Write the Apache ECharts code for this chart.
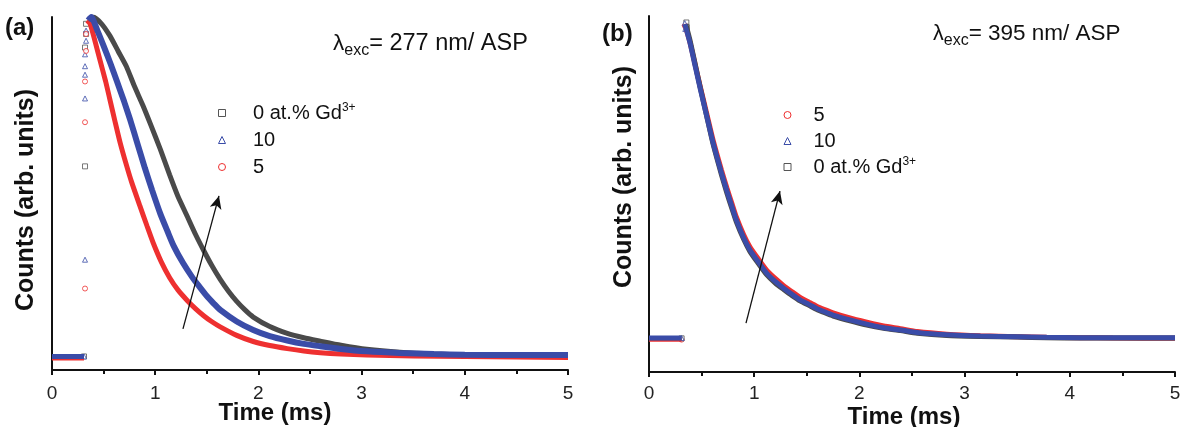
<!DOCTYPE html>
<html><head><meta charset="utf-8">
<script src="https://cdn.jsdelivr.net/npm/echarts@6/dist/echarts.min.js"></script>
<style>html,body{margin:0;padding:0;background:#fff}#c{width:1182px;height:427px}</style>
</head><body><div id="c"></div>
<script>
// ---------- shared ----------
const nameBlack = '0 at.% Gd3+';
const nameBlue = '10';
const nameRed = '5';
const xMin = 0, xMax = 5, xInterval = 1;

// ---------- panel (a): λexc = 277 nm ----------
const aBaseT = [0, 0.1, 0.2, 0.31];
const aBlackBase = [0, 0, 0, 0];
const aBlueBase = [0, 0, 0, 0];
const aRedBase = [-0.006, -0.006, -0.006, -0.006];

const aBlackT = [0.36, 0.40, 0.48, 0.56, 0.64, 0.72, 0.80, 0.88, 0.96, 1.05, 1.14, 1.22, 1.31, 1.39, 1.47, 1.55, 1.63, 1.71, 1.79, 1.87, 1.95, 2.11, 2.28, 2.44, 2.60, 2.80, 3.05, 3.37, 3.70, 4.00, 4.50, 5.00];
const aBlackV = [0.99, 1.00, 0.98, 0.945, 0.90, 0.855, 0.795, 0.74, 0.68, 0.61, 0.535, 0.472, 0.413, 0.36, 0.312, 0.267, 0.227, 0.192, 0.162, 0.137, 0.116, 0.088, 0.068, 0.055, 0.045, 0.033, 0.021, 0.012, 0.007, 0.005, 0.003, 0.002];

const aBlueT = [0.35, 0.38, 0.44, 0.50, 0.57, 0.63, 0.70, 0.76, 0.83, 0.90, 0.97, 1.05, 1.12, 1.18, 1.27, 1.36, 1.43, 1.50, 1.57, 1.63, 1.79, 1.95, 2.11, 2.28, 2.44, 2.60, 2.80, 3.05, 3.37, 3.70, 4.00, 4.50, 5.00];
const aBlueV = [0.99, 1.00, 0.96, 0.915, 0.86, 0.81, 0.75, 0.695, 0.625, 0.555, 0.49, 0.42, 0.368, 0.325, 0.275, 0.233, 0.205, 0.178, 0.155, 0.137, 0.103, 0.078, 0.06, 0.047, 0.037, 0.03, 0.022, 0.015, 0.01, 0.007, 0.005, 0.004, 0.004];

const aRedT = [0.34, 0.37, 0.42, 0.465, 0.52, 0.56, 0.61, 0.66, 0.72, 0.77, 0.85, 0.92, 0.98, 1.06, 1.14, 1.22, 1.31, 1.39, 1.47, 1.55, 1.63, 1.79, 1.95, 2.11, 2.28, 2.44, 2.60, 2.80, 3.05, 3.50, 4.00, 4.50, 5.00];
const aRedV = [0.99, 0.98, 0.925, 0.873, 0.81, 0.758, 0.693, 0.63, 0.565, 0.515, 0.445, 0.385, 0.335, 0.278, 0.232, 0.196, 0.165, 0.141, 0.12, 0.102, 0.087, 0.062, 0.044, 0.032, 0.023, 0.016, 0.011, 0.007, 0.004, 0.001, 0, -0.002, -0.003];

// rising-edge scattered points (t ≈ 0.32 ms)
const aBlackEdgeT = [0.31, 0.32, 0.32, 0.33, 0.33];
const aBlackEdgeV = [0, 0.56, 0.91, 0.95, 0.98];
const aBlueEdgeT = [0.31, 0.32, 0.32, 0.32, 0.32, 0.32, 0.33, 0.33];
const aBlueEdgeV = [0, 0.285, 0.76, 0.83, 0.855, 0.89, 0.93, 0.96];
const aRedEdgeT = [0.32, 0.32, 0.32, 0.33, 0.33];
const aRedEdgeV = [0.20, 0.69, 0.81, 0.90, 0.95];

const aArrowFrom = [1.269, 0.081];
const aArrowTo = [1.618, 0.473];

// ---------- panel (b): λexc = 395 nm ----------
const bBaseT = [0, 0.1, 0.2, 0.31];
const bBlackBase = [0.004, 0.004, 0.004, 0.004];
const bBlueBase = [0.005, 0.005, 0.005, 0.005];
const bRedBase = [0.0, 0.0, 0.0, 0.0];

const bBlueT = [0.34, 0.39, 0.44, 0.49, 0.55, 0.61, 0.69, 0.74, 0.79, 0.83, 0.90, 0.96, 1.04, 1.12, 1.20, 1.28, 1.36, 1.44, 1.52, 1.59, 1.67, 1.75, 1.91, 2.07, 2.23, 2.39, 2.55, 2.83, 3.15, 3.50, 3.78, 4.10, 4.41, 5.00];
const bBlueV = [0.975, 0.916, 0.843, 0.771, 0.689, 0.607, 0.514, 0.46, 0.41, 0.37, 0.315, 0.277, 0.24, 0.205, 0.18, 0.159, 0.14, 0.122, 0.109, 0.097, 0.086, 0.076, 0.061, 0.048, 0.037, 0.03, 0.022, 0.015, 0.011, 0.009, 0.007, 0.006, 0.006, 0.006];

const bRedT = [0.34, 0.39, 0.44, 0.49, 0.55, 0.61, 0.69, 0.74, 0.79, 0.83, 0.90, 0.96, 1.04, 1.12, 1.20, 1.28, 1.36, 1.44, 1.52, 1.59, 1.67, 1.75, 1.91, 2.07, 2.23, 2.39, 2.55, 2.83, 3.15, 3.50, 3.78, 4.10, 4.41, 5.00];
const bRedV = [0.975, 0.918, 0.848, 0.778, 0.697, 0.616, 0.523, 0.469, 0.419, 0.379, 0.324, 0.286, 0.249, 0.214, 0.189, 0.167, 0.148, 0.13, 0.116, 0.104, 0.093, 0.083, 0.067, 0.054, 0.042, 0.034, 0.025, 0.017, 0.012, 0.009, 0.007, 0.006, 0.005, 0.004];

const bBlackT = [0.35, 0.39, 0.44, 0.49, 0.55, 0.61, 0.69, 0.74, 0.79, 0.83, 0.90, 0.96, 1.04, 1.12, 1.20, 1.28, 1.36, 1.44, 1.52, 1.59, 1.67, 1.75, 1.91, 2.07, 2.23, 2.39, 2.55, 2.83, 3.15, 3.50, 3.78, 4.10, 4.41, 5.00];
const bBlackV = [0.975, 0.925, 0.85, 0.775, 0.688, 0.603, 0.508, 0.453, 0.403, 0.364, 0.31, 0.272, 0.235, 0.2, 0.175, 0.155, 0.136, 0.119, 0.106, 0.094, 0.083, 0.073, 0.058, 0.045, 0.035, 0.028, 0.02, 0.013, 0.01, 0.008, 0.006, 0.005, 0.005, 0.005];

const bBlackEdgeT = [0.31, 0.355, 0.36];
const bBlackEdgeV = [0.004, 0.98, 0.965];
const bBlueEdgeT = [0.31, 0.34, 0.345];
const bBlueEdgeV = [0.005, 0.978, 0.96];
const bRedEdgeT = [0.31, 0.34];
const bRedEdgeV = [0.0, 0.97];

const bArrowFrom = [0.922, 0.051];
const bArrowTo = [1.245, 0.459];

// ---------- helpers ----------
const zip = (t, v) => t.map((x, i) => [x, v[i]]);
const C = { black: '#4a4a4a', blue: '#3a4ca8', red: '#ee3030', axis: '#111' };
const FONT = '"Liberation Sans", Arial, Helvetica, sans-serif';

function lineSeries(name, idx, t, v, color, width, extra) {
  return Object.assign({
    name, type: 'line', xAxisIndex: idx, yAxisIndex: idx,
    data: zip(t, v), smooth: 0.2, showSymbol: false, symbol: 'none',
    lineStyle: { color, width }, itemStyle: { color }, silent: true
  }, extra || {});
}
function edgeSeries(name, idx, t, v, color, symbol) {
  return {
    name, type: 'scatter', xAxisIndex: idx, yAxisIndex: idx,
    data: zip(t, v), symbol, symbolSize: 5, silent: true,
    itemStyle: { color: '#fff', borderColor: color, borderWidth: 1 }
  };
}
function xAxis(idx, pad, gap, margin) {
  return {
    type: 'value', gridIndex: idx, min: xMin, max: xMax, interval: xInterval,
    axisLine: { show: true, onZero: false, lineStyle: { color: C.axis, width: 2 } },
    axisTick: { show: true, length: 5, lineStyle: { color: C.axis, width: 2 } },
    minorTick: { show: true, splitNumber: 2, length: 4, lineStyle: { color: C.axis, width: 2 } },
    splitLine: { show: false }, minorSplitLine: { show: false },
    axisLabel: { fontSize: 19, color: '#222', margin, fontFamily: FONT },
    name: 'Time (ms)', nameLocation: 'middle', nameGap: gap, nameMoveOverlap: false,
    nameTextStyle: { fontSize: 24, fontWeight: 'bold', color: '#111', fontFamily: FONT, padding: pad }
  };
}
function yAxis(idx, min, max, gap, pad) {
  return {
    type: 'value', gridIndex: idx, min, max,
    axisLine: { show: true, onZero: false, lineStyle: { color: C.axis, width: 2 } },
    axisTick: { show: false }, axisLabel: { show: false }, splitLine: { show: false },
    name: 'Counts (arb. units)', nameLocation: 'middle', nameGap: gap, nameMoveOverlap: false,
    nameTextStyle: { fontSize: 25, fontWeight: 'bold', color: '#111', fontFamily: FONT, padding: pad }
  };
}
function arrow(from, to) {
  return {
    silent: true, symbol: ['none', 'arrow'], symbolSize: [9, 13],
    lineStyle: { color: '#111', width: 1.3, type: 'solid' },
    label: { show: false }, emphasis: { disabled: true },
    data: [[{ coord: from }, { coord: to }]]
  };
}
const legendIcon = {
  [nameBlack]: { icon: 'rect', itemStyle: { color: '#fff', borderColor: '#555', borderWidth: 1 } },
  [nameBlue]: { icon: 'triangle', itemStyle: { color: '#fff', borderColor: '#3a4ca8', borderWidth: 1 } },
  [nameRed]: { icon: 'circle', itemStyle: { color: '#fff', borderColor: '#ee3030', borderWidth: 1 } }
};
function legend(names, left, top, textPad, gap) {
  return {
    orient: 'vertical', left, top, padding: 0, itemGap: gap, itemWidth: 7, itemHeight: 7,
    selectedMode: false,
    data: names.map(n => Object.assign({ name: n }, legendIcon[n])),
    formatter: n => n === nameBlack ? '0 at.% Gd{sup|3+}' : n,
    textStyle: {
      fontSize: 20, color: '#111', fontFamily: FONT, lineHeight: 22, padding: [0, 0, 0, textPad],
      rich: { sup: { fontSize: 12, lineHeight: 12, verticalAlign: 'top', color: '#111', fontFamily: FONT } }
    }
  };
}
function lambdaTitle(text, left, top, fs) {
  return {
    text, left, top, padding: 0,
    textStyle: {
      fontSize: fs, fontWeight: 'normal', color: '#111', fontFamily: FONT, lineHeight: 30,
      rich: {
        l: { fontSize: fs - 1, lineHeight: 30, color: '#111', fontFamily: FONT },
        s: { fontSize: 16, lineHeight: 16, verticalAlign: 'bottom', color: '#111', fontFamily: FONT },
        m: { fontSize: fs, lineHeight: 30, color: '#111', fontFamily: FONT }
      }
    }
  };
}

const option = {
  animation: false,
  backgroundColor: '#fff',
  textStyle: { fontFamily: FONT },
  title: [
    { text: '(a)', left: 5, top: 16, padding: 0, textStyle: { fontSize: 24, fontWeight: 'bold', color: '#111', fontFamily: FONT } },
    { text: '(b)', left: 602, top: 22, padding: 0, textStyle: { fontSize: 24, fontWeight: 'bold', color: '#111', fontFamily: FONT } },
    lambdaTitle('{l|λ}{s|exc}{m|= 277 nm/ ASP}', 333, 29, 23.5),
    lambdaTitle('{l|λ}{s|exc}{m|= 395 nm/ ASP}', 933, 19, 22.5)
  ],
  legend: [
    legend([nameBlack, nameBlue, nameRed], 218, 102, 22.5, 5),
    legend([nameRed, nameBlue, nameBlack], 783.5, 104, 17.5, 4)
  ],
  grid: [
    { left: 52, top: 17, width: 516, height: 353, outerBoundsMode: 'none', containLabel: false },
    { left: 649, top: 16, width: 526, height: 356, outerBoundsMode: 'none', containLabel: false }
  ],
  xAxis: [xAxis(0, [0, 70, 0, 0], 31, 14), xAxis(1, [0, 16, 0, 0], 33, 12)],
  yAxis: [yAxis(0, -0.04, 1.0, 13, [0, 13, 0, 0]), yAxis(1, -0.1, 1.0, 12, [0, 0, 0, 34])],
  series: [
    // panel (a)
    lineSeries(nameBlack, 0, aBaseT, aBlackBase, C.black, 5),
    lineSeries(nameRed, 0, aBaseT, aRedBase, C.red, 4),
    lineSeries(nameBlue, 0, aBaseT, aBlueBase, C.blue, 5),
    lineSeries(nameBlack, 0, aBlackT, aBlackV, C.black, 5),
    lineSeries(nameRed, 0, aRedT, aRedV, C.red, 5),
    lineSeries(nameBlue, 0, aBlueT, aBlueV, C.blue, 6, { markLine: arrow(aArrowFrom, aArrowTo) }),
    edgeSeries(nameBlack, 0, aBlackEdgeT, aBlackEdgeV, '#555', 'rect'),
    edgeSeries(nameBlue, 0, aBlueEdgeT, aBlueEdgeV, C.blue, 'triangle'),
    edgeSeries(nameRed, 0, aRedEdgeT, aRedEdgeV, C.red, 'circle'),
    // panel (b)
    lineSeries(nameRed, 1, bBaseT, bRedBase, C.red, 4),
    lineSeries(nameBlack, 1, bBaseT, bBlackBase, C.black, 4),
    lineSeries(nameBlue, 1, bBaseT, bBlueBase, C.blue, 5),
    lineSeries(nameRed, 1, bRedT, bRedV, C.red, 5),
    lineSeries(nameBlack, 1, bBlackT, bBlackV, C.black, 5),
    lineSeries(nameBlue, 1, bBlueT, bBlueV, C.blue, 5, { markLine: arrow(bArrowFrom, bArrowTo) }),
    edgeSeries(nameRed, 1, bRedEdgeT, bRedEdgeV, C.red, 'circle'),
    edgeSeries(nameBlack, 1, bBlackEdgeT, bBlackEdgeV, '#555', 'rect'),
    edgeSeries(nameBlue, 1, bBlueEdgeT, bBlueEdgeV, C.blue, 'triangle')
  ]
};
const chart = echarts.init(document.getElementById('c'), null, { renderer: 'canvas' });
chart.setOption(option);
</script>
</body></html>
